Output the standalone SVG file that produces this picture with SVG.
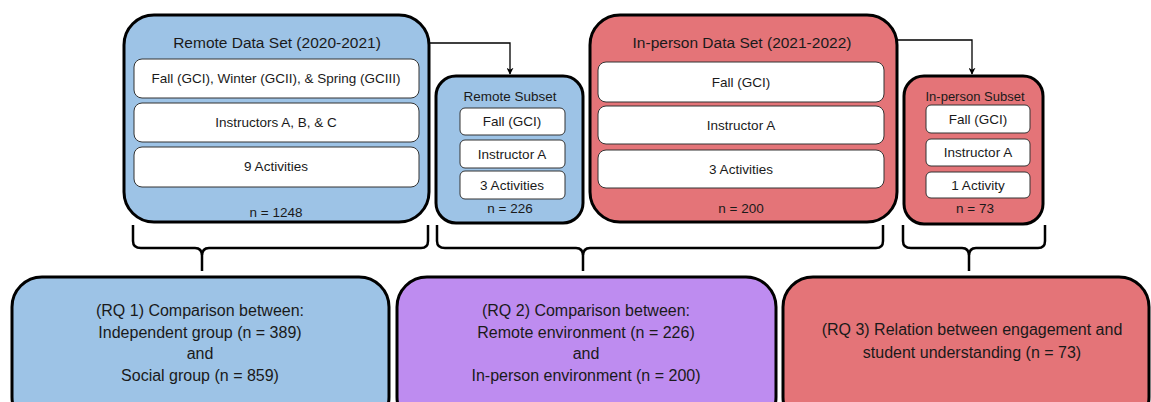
<svg xmlns="http://www.w3.org/2000/svg" width="1151" height="402" viewBox="0 0 1151 402">
  <style>
    text { font-family: "Liberation Sans", Arial, sans-serif; fill: #1a1a1a; text-anchor: middle; }
    .outer { stroke: #000; stroke-width: 3; }
    .blue { fill: #9DC3E6; }
    .red { fill: #E47478; }
    .purple { fill: #BE8CF0; }
    .inner { fill: #fff; stroke: #333; stroke-width: 1; }
    .title { font-size: 15.5px; }
    .sub { font-size: 13.5px; }
    .small { font-size: 13px; }
    .rq { font-size: 16px; }
    .brace { fill: none; stroke: #000; stroke-width: 2.5; stroke-linejoin: round; }
    .link { fill: none; stroke: #000; stroke-width: 1.3; }
  </style>
  <defs>
    <marker id="arrow" viewBox="0 0 10 10" refX="9" refY="5" markerWidth="7" markerHeight="7" markerUnits="userSpaceOnUse" orient="auto">
      <path d="M0,0 L10,5 L0,10 L3,5 Z" fill="#000"/>
    </marker>
  </defs>

  <rect width="1151" height="402" fill="#fff"/>

  <!-- connectors: dataset-to-subset arrows and grouping braces -->
  <g id="connectors">
    <path class="link" d="M429,43 H510 V74" marker-end="url(#arrow)"/>
    <path class="link" d="M897,40 H972 V74" marker-end="url(#arrow)"/>
    <path class="brace" d="M133,225 V241 Q133,248 141,248 H195 Q202,248 202,256 V271 M202,256 Q202,248 209,248 H421 Q428,248 428,241 V225"/>
    <path class="brace" d="M437,225 V241 Q437,248 445,248 H576 Q583,248 583,256 V271 M583,256 Q583,248 590,248 H876 Q883,248 883,241 V225"/>
    <path class="brace" d="M903,225 V241 Q903,248 911,248 H962 Q969,248 969,256 V271 M969,256 Q969,248 976,248 H1038 Q1045,248 1045,241 V225"/>
  </g>

  <g id="remote-dataset">
    <rect class="outer blue" x="124" y="15" width="305" height="207" rx="30"/>
    <text class="title" x="277" y="48">Remote Data Set (2020-2021)</text>
    <rect class="inner" x="134" y="59" width="285" height="39" rx="8"/>
    <text class="sub" x="276" y="83">Fall (GCI), Winter (GCII), &amp; Spring (GCIII)</text>
    <rect class="inner" x="134" y="103" width="285" height="39" rx="8"/>
    <text class="sub" x="276" y="127">Instructors  A, B, &amp; C</text>
    <rect class="inner" x="134" y="147" width="285" height="40" rx="8"/>
    <text class="sub" x="276" y="171">9 Activities</text>
    <text class="sub" x="276" y="217">n = 1248</text>
  </g>

  <g id="remote-subset">
    <rect class="outer blue" x="436" y="76" width="147" height="147" rx="20"/>
    <text class="sub" x="510" y="101">Remote Subset</text>
    <rect class="inner" x="460" y="108" width="105" height="27" rx="5"/>
    <text class="sub" x="512" y="126">Fall (GCI)</text>
    <rect class="inner" x="460" y="140" width="105" height="28" rx="5"/>
    <text class="sub" x="512" y="159">Instructor  A</text>
    <rect class="inner" x="460" y="171" width="105" height="28" rx="5"/>
    <text class="sub" x="512" y="190">3 Activities</text>
    <text class="sub" x="510" y="213">n = 226</text>
  </g>

  <g id="inperson-dataset">
    <rect class="outer red" x="590" y="15" width="307" height="207" rx="30"/>
    <text class="title" x="742" y="48">In-person  Data Set (2021-2022)</text>
    <rect class="inner" x="598" y="62" width="286" height="40" rx="8"/>
    <text class="sub" x="741" y="87">Fall (GCI)</text>
    <rect class="inner" x="598" y="106" width="286" height="38" rx="8"/>
    <text class="sub" x="741" y="130">Instructor  A</text>
    <rect class="inner" x="598" y="150" width="286" height="38" rx="8"/>
    <text class="sub" x="741" y="174">3 Activities</text>
    <text class="sub" x="741" y="213">n = 200</text>
  </g>

  <g id="inperson-subset">
    <rect class="outer red" x="904" y="76" width="139" height="148" rx="20"/>
    <text class="small" x="975" y="101">In-person Subset</text>
    <rect class="inner" x="926" y="105" width="104" height="28" rx="5"/>
    <text class="sub" x="978" y="124">Fall (GCI)</text>
    <rect class="inner" x="926" y="139" width="104" height="27" rx="5"/>
    <text class="sub" x="978" y="157">Instructor  A</text>
    <rect class="inner" x="926" y="172" width="104" height="26" rx="5"/>
    <text class="sub" x="978" y="190">1 Activity</text>
    <text class="sub" x="975" y="213">n = 73</text>
  </g>

  <g id="rq1">
    <rect class="outer blue" x="12" y="277" width="377" height="150" rx="30" stroke-width="3.5"/>
    <text class="rq" x="200" y="316">(RQ 1) Comparison  between:</text>
    <text class="rq" x="200" y="338">Independent  group (n = 389)</text>
    <text class="rq" x="200" y="359">and</text>
    <text class="rq" x="200" y="381">Social group (n = 859)</text>
  </g>

  <g id="rq2">
    <rect class="outer purple" x="397" y="277" width="379" height="150" rx="30" stroke-width="3.5"/>
    <text class="rq" x="586" y="316">(RQ 2) Comparison  between:</text>
    <text class="rq" x="586" y="338">Remote environment  (n = 226)</text>
    <text class="rq" x="586" y="359">and</text>
    <text class="rq" x="586" y="381">In-person  environment  (n = 200)</text>
  </g>

  <g id="rq3">
    <rect class="outer red" x="783" y="277" width="366" height="150" rx="30" stroke-width="3.5"/>
    <text class="rq" x="972" y="335">(RQ 3) Relation between engagement and</text>
    <text class="rq" x="972" y="358">student understanding  (n = 73)</text>
  </g>
</svg>
